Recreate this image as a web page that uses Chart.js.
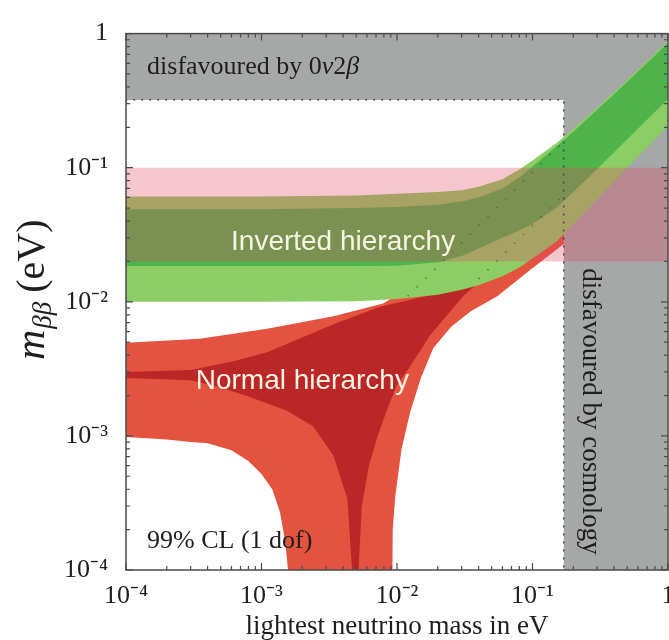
<!DOCTYPE html>
<html>
<head>
<meta charset="utf-8">
<script src="https://cdn.jsdelivr.net/npm/chart.js@4.4.0/dist/chart.umd.min.js"></script>
<style>
  html, body { margin: 0; padding: 0; background: #fff; }
</style>
</head>
<body>
<canvas id="myChart" width="669" height="640"></canvas>
<script>
// axes: log-log, lightest neutrino mass vs m_bb (both in eV)
const xMin = 1e-4, xMax = 1;
const yMin = 1e-4, yMax = 1;
const decades = [1e-4, 1e-3, 1e-2, 1e-1, 1];
const decadeLabels = ['10⁻⁴', '10⁻³', '10⁻²', '10⁻¹', '1'];

// disfavoured regions and the pink band
const bound0nu2b = 0.32;
const boundCosmo = 0.17;
const claimLow = 0.02, claimHigh = 0.1;

// inverted hierarchy bands
const ihX       = [5e-5, 0.001, 0.005, 0.01, 0.02, 0.03, 0.04, 0.06, 0.08, 0.1, 0.15, 0.2, 0.3, 0.5, 1, 1.5];
const ihOuterHi = [0.061, 0.061, 0.062, 0.064, 0.066, 0.068, 0.072, 0.082, 0.097, 0.113, 0.152, 0.195, 0.28, 0.45, 0.88, 1.3];
const ihInnerHi = [0.049, 0.049, 0.050, 0.051, 0.053, 0.056, 0.060, 0.070, 0.085, 0.102, 0.143, 0.185, 0.27, 0.435, 0.85, 1.26];
const ihInnerLo = [0.0185, 0.0185, 0.0185, 0.0186, 0.0197, 0.022, 0.025, 0.030, 0.034, 0.038, 0.050, 0.066, 0.098, 0.163, 0.325, 0.49];
const ihOuterLo = [0.0100, 0.0100, 0.0101, 0.0105, 0.0113, 0.0123, 0.0133, 0.0155, 0.018, 0.021, 0.028, 0.038, 0.058, 0.1, 0.205, 0.31];

// faint dotted lines inside the inverted band
const dotUpperX = [0.012, 0.17];
const dotUpperY = [0.011, 0.158];
const dotLowerX = [0.04, 0.17];
const dotLowerY = [0.0148, 0.063];

// normal hierarchy, outer (light red) region edges
const nhOuterTopX   = [5e-5, 1e-4, 0.00035, 0.0011, 0.0034, 0.0079, 0.012, 0.03, 0.1, 1.5];
const nhOuterTopY   = [0.0050, 0.00496, 0.0053, 0.0063, 0.0078, 0.0097, 0.0125, 0.03, 0.09, 1.2];
const nhOuterRightX = [1.5, 0.3, 0.17, 0.096, 0.055, 0.035, 0.025, 0.0185, 0.015, 0.0125, 0.0108, 0.0097, 0.0093, 0.0092];
const nhOuterRightY = [0.25, 0.048, 0.027, 0.0173, 0.011, 0.0085, 0.0065, 0.0045, 0.0027, 0.0015, 0.0008, 0.00035, 0.0002, 5e-5];
const nhOuterLeftX  = [0.0016, 0.00157, 0.0015, 0.00137, 0.0012, 0.001, 0.0008, 0.0006, 0.0004, 0.0003, 0.0002, 1e-4, 5e-5];
const nhOuterLeftY  = [5e-5, 1e-4, 0.00016, 0.00027, 0.0004, 0.00052, 0.00065, 0.00078, 0.00088, 0.0009, 0.00094, 0.00098, 0.00098];

// normal hierarchy, inner (dark red) region edges
const nhInnerTopX   = [5e-5, 1e-4, 0.0003, 0.00062, 0.0011, 0.0019, 0.0034, 0.0075, 0.0175, 0.0307, 0.1, 1.5];
const nhInnerTopY   = [0.0030, 0.0030, 0.0031, 0.0036, 0.0042, 0.0053, 0.0068, 0.0092, 0.0112, 0.0125, 0.06, 1.1];
const nhInnerRightX = [1.5, 0.1, 0.05, 0.0307, 0.0175, 0.012, 0.01, 0.0085, 0.0072, 0.0062, 0.0055, 0.0052, 0.0051];
const nhInnerRightY = [0.45, 0.034, 0.017, 0.011, 0.0056, 0.0031, 0.0024, 0.0016, 0.001, 0.0006, 0.0003, 0.0001, 5e-5];
const nhInnerLeftX  = [0.0047, 0.00466, 0.0043, 0.0034, 0.0024, 0.00154, 0.00082, 0.0005, 0.0003, 1e-4, 5e-5];
const nhInnerLeftY  = [5e-5, 1e-4, 0.00034, 0.00071, 0.00118, 0.00154, 0.00195, 0.0023, 0.0026, 0.0027, 0.0027];

const serif = '"Liberation Serif", "Times New Roman", serif';
const sans = '"Liberation Sans", Arial, sans-serif';

function pts(xs, ys) {
  return xs.map((x, i) => ({ x: x, y: ys[i] }));
}
function band(xs, hi, lo) {
  return pts(xs, hi).concat(pts(xs, lo).reverse());
}

const lo = 5e-5, hi = 2;
const grayShape = [
  { x: lo, y: bound0nu2b }, { x: boundCosmo, y: bound0nu2b }, { x: boundCosmo, y: lo },
  { x: hi, y: lo }, { x: hi, y: hi }, { x: lo, y: hi }
];
const grayEdge = [{ x: lo, y: bound0nu2b }, { x: boundCosmo, y: bound0nu2b }, { x: boundCosmo, y: lo }];
const pinkShape = [{ x: lo, y: claimLow }, { x: hi, y: claimLow }, { x: hi, y: claimHigh }, { x: lo, y: claimHigh }];

const nhOuter = pts(nhOuterTopX, nhOuterTopY).concat(pts(nhOuterRightX, nhOuterRightY), pts(nhOuterLeftX, nhOuterLeftY));
const nhInner = pts(nhInnerTopX, nhInnerTopY).concat(pts(nhInnerRightX, nhInnerRightY), pts(nhInnerLeftX, nhInnerLeftY));

function region(label, data, color, order) {
  return {
    label: label, data: data, showLine: true, fill: 'shape',
    backgroundColor: color, borderColor: 'transparent', borderWidth: 0,
    pointRadius: 0, tension: 0, order: order
  };
}
function dotted(label, data, color, width, dash, order) {
  return {
    label: label, data: data, showLine: true, fill: false,
    borderColor: color, borderWidth: width, borderDash: dash,
    pointRadius: 0, order: order
  };
}

function labelFor(v) {
  for (let i = 0; i < decades.length; i++) {
    if (Math.abs(Math.log10(v) - Math.log10(decades[i])) < 1e-6) return decadeLabels[i];
  }
  return '';
}

// frame with inward ticks on all four sides, then the text labels
const framePlugin = {
  id: 'frame',
  afterDatasetsDraw(chart) {
    const ctx = chart.ctx;
    const a = chart.chartArea;
    const sx = chart.scales.x, sy = chart.scales.y;
    ctx.save();
    ctx.strokeStyle = '#4a4a4a';
    ctx.lineWidth = 1.2;
    ctx.beginPath();
    for (let d = 0; d < decades.length; d++) {
      for (let k = 1; k <= 9; k++) {
        const v = decades[d] * k;
        if (v > xMax * 1.0001) break;
        const len = k === 1 ? 7 : 4;
        const px = sx.getPixelForValue(v);
        ctx.moveTo(px, a.bottom); ctx.lineTo(px, a.bottom - len);
        ctx.moveTo(px, a.top); ctx.lineTo(px, a.top + len);
        const py = sy.getPixelForValue(v);
        ctx.moveTo(a.left, py); ctx.lineTo(a.left + len, py);
        ctx.moveTo(a.right, py); ctx.lineTo(a.right - len, py);
      }
    }
    ctx.stroke();
    ctx.lineWidth = 1.5;
    ctx.strokeRect(a.left, a.top, a.right - a.left, a.bottom - a.top);
    ctx.restore();
  },
  afterDraw(chart) {
    const ctx = chart.ctx;
    const sx = chart.scales.x, sy = chart.scales.y;
    ctx.save();
    ctx.textBaseline = 'alphabetic';
    ctx.textAlign = 'left';
    ctx.fillStyle = '#1e1e1e';

    // disfavoured by 0v2b
    let x = sx.getPixelForValue(1.43e-4), y = sy.getPixelForValue(0.50);
    const parts = [['disfavoured by 0', ''], ['ν', 'italic '], ['2', ''], ['β', 'italic ']];
    parts.forEach(p => {
      ctx.font = p[1] + '26px ' + serif;
      ctx.fillText(p[0], x, y);
      x += ctx.measureText(p[0]).width;
    });

    ctx.font = '26px ' + serif;
    ctx.fillText('99% CL (1 dof)', sx.getPixelForValue(1.43e-4), sy.getPixelForValue(1.47e-4));

    // cosmology label, rotated
    ctx.save();
    ctx.translate(sx.getPixelForValue(0.236), sy.getPixelForValue(0.0178));
    ctx.rotate(Math.PI / 2);
    ctx.font = '27px ' + serif;
    ctx.fillText('disfavoured by cosmology', 0, 0);
    ctx.restore();

    // hierarchy labels
    ctx.fillStyle = '#f6f4e2';
    ctx.textAlign = 'center';
    ctx.font = '28px ' + sans;
    ctx.fillText('Inverted hierarchy', sx.getPixelForValue(0.0040), sy.getPixelForValue(0.0245));
    ctx.fillText('Normal hierarchy', sx.getPixelForValue(0.0020), sy.getPixelForValue(0.00223));

    // y axis title: m_bb (eV)
    ctx.fillStyle = '#1e1e1e';
    ctx.textAlign = 'left';
    ctx.translate(44, 360);
    ctx.rotate(-Math.PI / 2);
    let t = 0;
    ctx.font = 'italic 42px ' + serif;
    ctx.fillText('m', t, 0);
    t += ctx.measureText('m').width + 1;
    ctx.font = 'italic 27px ' + serif;
    ctx.fillText('ββ', t, 7);
    t += ctx.measureText('ββ').width + 9;
    ctx.font = '40px ' + serif;
    ctx.fillText('(eV)', t, 0);
    ctx.restore();
  }
};

new Chart('myChart', {
  type: 'scatter',
  data: {
    datasets: [
      region('disfavoured', grayShape, '#a6a8a8', 6),
      region('NH 99%', nhOuter, '#e4533f', 8),
      region('NH best fit', nhInner, '#bb2626', 7),
      region('IH 99%', band(ihX, ihOuterHi, ihOuterLo), '#8dcd66', 5),
      region('IH best fit', band(ihX, ihInnerHi, ihInnerLo), '#4fb34b', 4),
      dotted('IH upper', pts(dotUpperX, dotUpperY), 'rgba(40, 60, 30, 0.55)', 1.6, [1.5, 11], 3),
      dotted('IH lower', pts(dotLowerX, dotLowerY), 'rgba(40, 60, 30, 0.55)', 1.6, [1.5, 11], 3),
      region('claim', pinkShape, 'rgba(225, 65, 95, 0.3)', 2),
      dotted('edge', grayEdge, '#3c3c3c', 1.3, [2, 6], 1)
    ]
  },
  options: {
    responsive: false,
    devicePixelRatio: 1,
    animation: false,
    events: [],
    layout: { padding: { top: 21, right: 1, left: 0, bottom: 0 } },
    plugins: { legend: { display: false }, tooltip: { enabled: false } },
    scales: {
      x: {
        type: 'logarithmic', min: xMin, max: xMax, position: 'bottom',
        afterBuildTicks: s => { s.ticks = decades.map(v => ({ value: v })); },
        afterFit: s => { s.height = 70; s.paddingLeft = 0; s.paddingRight = 0; },
        grid: { display: false, drawTicks: false },
        border: { display: false },
        ticks: {
          callback: v => labelFor(v), autoSkip: false, maxRotation: 0,
          font: { family: serif, size: 26 }, color: '#1e1e1e', padding: 11
        },
        title: {
          display: true, text: 'lightest neutrino mass in eV',
          font: { family: serif, size: 27, lineHeight: 1 }, color: '#1e1e1e',
          padding: { top: 0, bottom: 0 }
        }
      },
      y: {
        type: 'logarithmic', min: yMin, max: yMax, position: 'left',
        afterBuildTicks: s => { s.ticks = decades.map(v => ({ value: v })); },
        afterFit: s => { s.width = 126; },
        grid: { display: false, drawTicks: false },
        border: { display: false },
        ticks: {
          callback: v => labelFor(v), autoSkip: false,
          font: { family: serif, size: 26 }, color: '#1e1e1e', padding: 18
        }
      }
    }
  },
  plugins: [framePlugin]
});
</script>
</body>
</html>
